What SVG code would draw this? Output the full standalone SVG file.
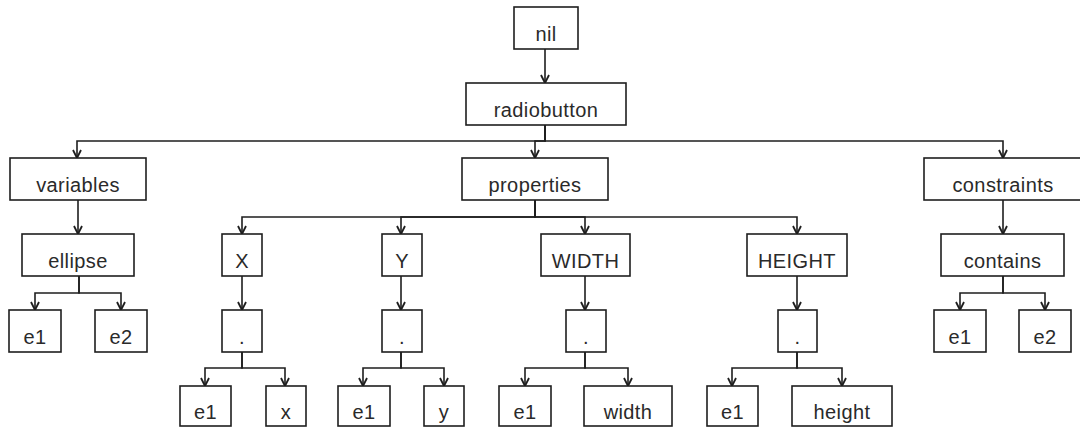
<svg xmlns="http://www.w3.org/2000/svg" width="1080" height="427" viewBox="0 0 1080 427">
<style>
.n rect{fill:#fff;stroke:#1e1e1e;stroke-width:1.6}
.n text{font-family:"Liberation Sans",Arial,sans-serif;font-size:20px;letter-spacing:0.4px;fill:#2a2a2a;text-anchor:middle}
.c path{fill:none;stroke:#1e1e1e;stroke-width:1.6;marker-end:url(#a)}
</style>
<defs>
<marker id="a" markerUnits="userSpaceOnUse" markerWidth="12" markerHeight="12" viewBox="-10 -6 12 12" refX="0" refY="0" orient="auto">
<path d="M-8,-4 L0,0 L-8,4" fill="none" stroke="#1e1e1e" stroke-width="1.8"/>
</marker>
</defs>
<rect width="1080" height="427" fill="#fff"/>
<g class="c">
<path d="M545,49 V83"/>
<path d="M545,125 V141 H77 V158"/>
<path d="M545,125 V141 H535 V158"/>
<path d="M545,125 V141 H1003 V158"/>
<path d="M78,200 V234"/>
<path d="M79,276 V293 H35 V310"/>
<path d="M79,276 V293 H121 V310"/>
<path d="M535,200 V217 H242 V234"/>
<path d="M535,200 V217 H401 V234"/>
<path d="M535,200 V217 H585 V234"/>
<path d="M535,200 V217 H797 V234"/>
<path d="M242,276 V310"/>
<path d="M401,276 V310"/>
<path d="M585,276 V310"/>
<path d="M797,276 V310"/>
<path d="M242,352 V368 H205 V386"/>
<path d="M242,352 V368 H285 V386"/>
<path d="M401,352 V368 H363 V386"/>
<path d="M401,352 V368 H444 V386"/>
<path d="M585,352 V368 H525 V386"/>
<path d="M585,352 V368 H628 V386"/>
<path d="M797,352 V368 H732 V386"/>
<path d="M797,352 V368 H842 V386"/>
<path d="M1003,200 V234"/>
<path d="M1003,276 V293 H960 V310"/>
<path d="M1003,276 V293 H1045 V310"/>
</g>
<g id="nil" class="n"><rect x="514" y="7" width="64" height="42"/><text x="546" y="41">nil</text></g>
<g id="radiobutton" class="n"><rect x="466" y="83" width="160" height="42"/><text x="546" y="117">radiobutton</text></g>
<g id="variables" class="n"><rect x="10" y="158" width="136" height="42"/><text x="78" y="192">variables</text></g>
<g id="properties" class="n"><rect x="462" y="158" width="146" height="42"/><text x="535" y="192">properties</text></g>
<g id="constraints" class="n"><rect x="924" y="158" width="158" height="42"/><text x="1003" y="192">constraints</text></g>
<g id="ellipse" class="n"><rect x="22" y="234" width="112" height="42"/><text x="78" y="268">ellipse</text></g>
<g id="ellipse-e1" class="n"><rect x="9" y="310" width="52" height="42"/><text x="35" y="344">e1</text></g>
<g id="ellipse-e2" class="n"><rect x="95" y="310" width="52" height="42"/><text x="121" y="344">e2</text></g>
<g id="X" class="n"><rect x="222" y="234" width="40" height="42"/><text x="242" y="268">X</text></g>
<g id="Y" class="n"><rect x="382" y="234" width="40" height="42"/><text x="402" y="268">Y</text></g>
<g id="WIDTH" class="n"><rect x="541" y="234" width="89" height="42"/><text x="585.5" y="268">WIDTH</text></g>
<g id="HEIGHT" class="n"><rect x="747" y="234" width="100" height="42"/><text x="797" y="268">HEIGHT</text></g>
<g id="contains" class="n"><rect x="941" y="234" width="123" height="42"/><text x="1002.5" y="268">contains</text></g>
<g id="X-dot" class="n"><rect x="222" y="310" width="40" height="42"/><text x="242" y="344">.</text></g>
<g id="Y-dot" class="n"><rect x="382" y="310" width="40" height="42"/><text x="402" y="344">.</text></g>
<g id="WIDTH-dot" class="n"><rect x="566" y="310" width="40" height="42"/><text x="586" y="344">.</text></g>
<g id="HEIGHT-dot" class="n"><rect x="778" y="310" width="39" height="42"/><text x="797.5" y="344">.</text></g>
<g id="contains-e1" class="n"><rect x="934" y="310" width="52" height="42"/><text x="960" y="344">e1</text></g>
<g id="contains-e2" class="n"><rect x="1019" y="310" width="52" height="42"/><text x="1045" y="344">e2</text></g>
<g id="X-e1" class="n"><rect x="180" y="386" width="51" height="40"/><text x="205.5" y="419">e1</text></g>
<g id="X-x" class="n"><rect x="266" y="386" width="40" height="40"/><text x="286" y="419">x</text></g>
<g id="Y-e1" class="n"><rect x="338" y="386" width="52" height="40"/><text x="364" y="419">e1</text></g>
<g id="Y-y" class="n"><rect x="424" y="386" width="40" height="40"/><text x="444" y="419">y</text></g>
<g id="WIDTH-e1" class="n"><rect x="499" y="386" width="52" height="40"/><text x="525" y="419">e1</text></g>
<g id="WIDTH-width" class="n"><rect x="584" y="386" width="88" height="40"/><text x="628" y="419">width</text></g>
<g id="HEIGHT-e1" class="n"><rect x="707" y="386" width="51" height="40"/><text x="732.5" y="419">e1</text></g>
<g id="HEIGHT-height" class="n"><rect x="792" y="386" width="100" height="40"/><text x="842" y="419">height</text></g>
</svg>
